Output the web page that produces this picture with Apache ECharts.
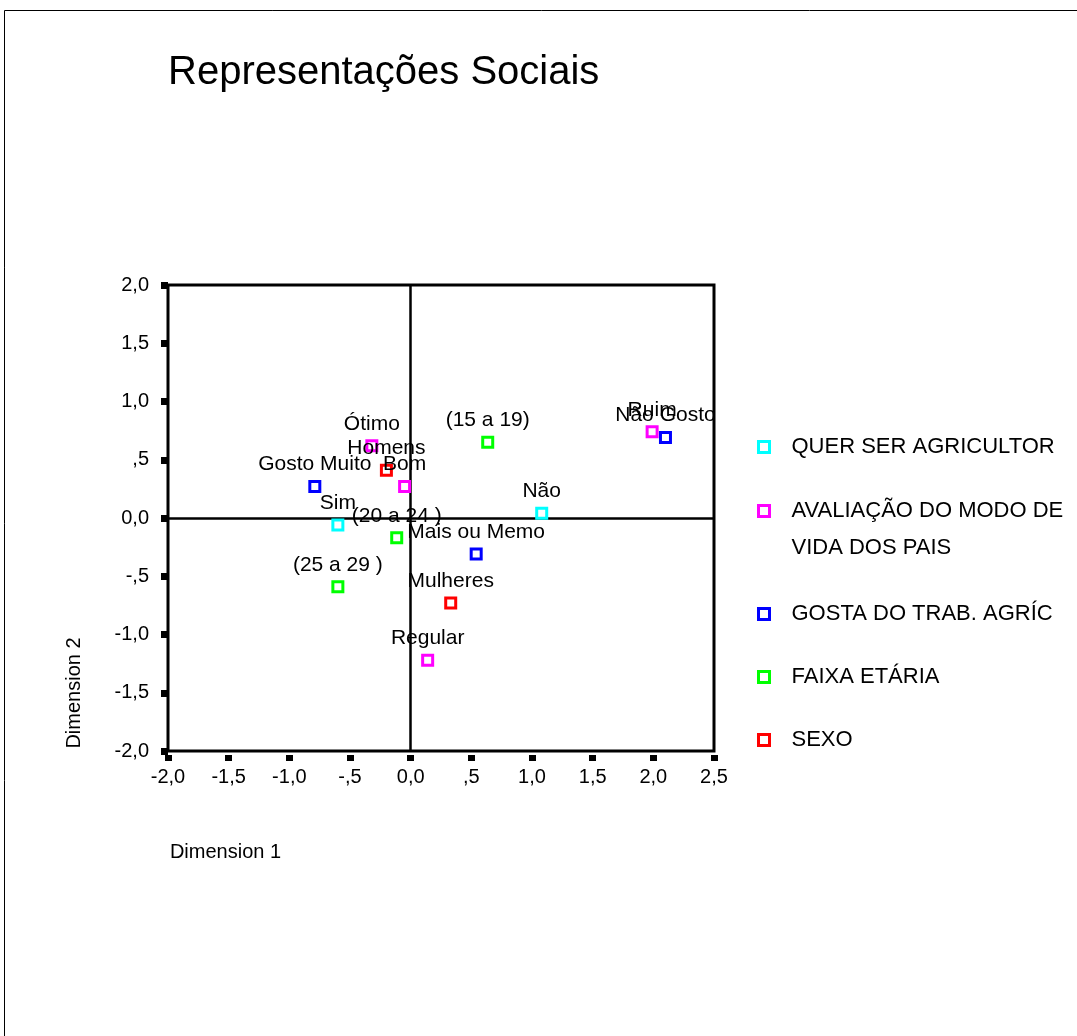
<!DOCTYPE html>
<html>
<head>
<meta charset="utf-8">
<script src="https://cdn.jsdelivr.net/npm/echarts@6.0.0/dist/echarts.min.js"></script>
<style>
html,body{margin:0;padding:0;background:#fff;}
#chart{width:1077px;height:1036px;}
</style>
</head>
<body>
<div id="chart"></div>
<script>
// ---- data ----
const seriesNames = ['QUER SER AGRICULTOR', 'AVALIAÇÃO DO MODO DE VIDA DOS PAIS', 'GOSTA DO TRAB. AGRÍC', 'FAIXA ETÁRIA', 'SEXO'];
const legendLabels = ['QUER SER AGRICULTOR', '\nAVALIAÇÃO DO MODO DE\nVIDA DOS PAIS', 'GOSTA DO TRAB. AGRÍC', 'FAIXA ETÁRIA', 'SEXO'];
const seriesColors = ['#00FFFF', '#FF00FF', '#0000FF', '#00FF00', '#FF0000'];

const querNames = ['Sim', 'Não'];
const querX = [-0.60, 1.08];
const querY = [-0.06, 0.04];

const avalNames = ['Ótimo', 'Bom', 'Ruim', 'Regular'];
const avalX = [-0.32, -0.05, 1.99, 0.14];
const avalY = [0.62, 0.27, 0.74, -1.22];

const gostaNames = ['Gosto Muito', 'Mais ou Memo', 'Não Gosto'];
const gostaX = [-0.79, 0.54, 2.10];
const gostaY = [0.27, -0.31, 0.69];

const faixaNames = ['(15 a 19)', '(20 a 24 )', '(25 a 29 )'];
const faixaX = [0.635, -0.115, -0.60];
const faixaY = [0.65, -0.17, -0.59];

const sexoNames = ['Homens', 'Mulheres'];
const sexoX = [-0.20, 0.33];
const sexoY = [0.41, -0.73];

const xTicks = [-2, -1.5, -1, -0.5, 0, 0.5, 1, 1.5, 2, 2.5];
const xTickLabels = ['-2,0', '-1,5', '-1,0', '-,5', '0,0', ',5', '1,0', '1,5', '2,0', '2,5'];
const yTicks = [-2, -1.5, -1, -0.5, 0, 0.5, 1, 1.5, 2];
const yTickLabels = ['-2,0', '-1,5', '-1,0', '-,5', '0,0', ',5', '1,0', '1,5', '2,0'];

// ---- build ----
const FONT = '"Liberation Sans", Arial, Helvetica, sans-serif';
const groups = [
  [querNames, querX, querY],
  [avalNames, avalX, avalY],
  [gostaNames, gostaX, gostaY],
  [faixaNames, faixaX, faixaY],
  [sexoNames, sexoX, sexoY]
];

function lookup(ticks, labels, v) {
  const i = ticks.findIndex(t => Math.abs(t - v) < 1e-9);
  return i >= 0 ? labels[i] : '';
}

const series = groups.map((g, i) => {
  const s = {
    name: seriesNames[i],
    type: 'scatter',
    symbol: 'rect',
    symbolSize: 10,
    itemStyle: { color: '#ffffff', borderColor: seriesColors[i], borderWidth: 3, opacity: 1 },
    label: {
      show: true, position: 'top', distance: 5,
      color: '#000', fontSize: 21, fontFamily: FONT,
      formatter: p => p.data.name
    },
    emphasis: { disabled: true },
    z: 5,
    data: g[0].map((n, k) => ({ name: n, value: [g[1][k], g[2][k]] }))
  };
  if (i === 0) {
    s.markLine = {
      silent: true, symbol: 'none', label: { show: false },
      lineStyle: { color: '#000', width: 2.5, type: 'solid' },
      data: [{ xAxis: 0 }, { yAxis: 0 }],
      z: 1
    };
  }
  return s;
});

// legend: one component per item
const legendIconCenters = [447, 511, 614, 677, 740];
const legends = seriesNames.map((n, i) => {
  const lines = legendLabels[i].split('\n').length;
  const lh = lines > 1 ? 37 : 26;
  const boxH = lh * lines;
  return {
    data: [n],
    formatter: () => legendLabels[i],
    orient: 'vertical',
    left: 757,
    top: legendIconCenters[i] - boxH / 2,
    padding: 0,
    itemWidth: 11,
    itemHeight: 11,
    selectedMode: false,
    icon: 'rect',
    itemStyle: { color: '#ffffff', borderColor: seriesColors[i], borderWidth: 3 },
    textStyle: { color: '#000', fontSize: 22, fontFamily: FONT, lineHeight: lh, padding: [0, 0, 0, 17] }
  };
});

const option = {
  backgroundColor: '#fff',
  animation: false,
  title: {
    text: 'Representações Sociais',
    left: 163, top: 48,
    textStyle: { color: '#000', fontSize: 40, fontWeight: 'normal', fontFamily: FONT }
  },
  legend: legends,
  grid: {
    left: 168, right: 363, top: 285, bottom: 285,
    show: true, borderColor: '#000', borderWidth: 3, backgroundColor: 'transparent'
  },
  xAxis: {
    type: 'value', min: -2, max: 2.5, interval: 0.5,
    offset: 4,
    axisLine: { show: false, onZero: false },
    axisTick: { show: true, length: 6, lineStyle: { color: '#000', width: 7 } },
    splitLine: { show: false },
    axisLabel: { color: '#000', fontSize: 20, fontFamily: FONT, margin: 12, formatter: v => lookup(xTicks, xTickLabels, v) },
    name: 'Dimension 1', nameLocation: 'middle', nameGap: 87,
    nameTextStyle: { color: '#000', fontSize: 20, fontFamily: FONT, padding: [0, 431, 0, 0] }
  },
  yAxis: {
    type: 'value', min: -2, max: 2, interval: 0.5,
    axisLine: { show: false, onZero: false },
    axisTick: { show: true, length: 7, lineStyle: { color: '#000', width: 7 } },
    splitLine: { show: false },
    axisLabel: { color: '#000', fontSize: 20, fontFamily: FONT, margin: 19, formatter: v => lookup(yTicks, yTickLabels, v) },
    name: 'Dimension 2', nameLocation: 'middle', nameGap: 84, nameRotate: 90,
    nameTextStyle: { color: '#000', fontSize: 20, fontFamily: FONT, padding: [0, 350, 0, 0] }
  },
  graphic: [{
    type: 'rect', silent: true,
    shape: { x: 4.5, y: 10.5, width: 1200, height: 1200 },
    style: { fill: 'none', stroke: '#000', lineWidth: 1 }
  }],
  series: series
};

const chart = echarts.init(document.getElementById('chart'), null, { renderer: 'canvas' });
chart.setOption(option);
</script>
</body>
</html>
